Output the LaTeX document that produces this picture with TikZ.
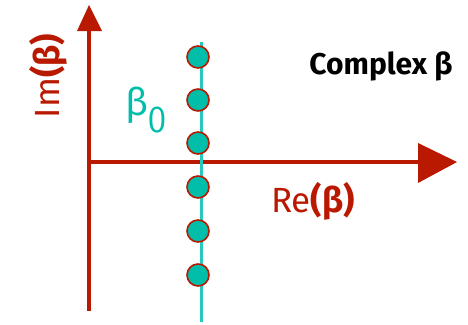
\documentclass[tikz,border=0pt]{standalone}
\usepackage{fontspec}
\setmainfont{Fira Sans}
\begin{document}
\begin{tikzpicture}[x=1pt,y=-1pt,
  axis/.style={draw=axred,line width=4pt},
  ahead/.style={fill=axred,draw=none},
  pole/.style={circle,fill=poleteal,draw=axred,line width=1.6pt,minimum size=22pt,inner sep=0pt},
  lbl/.style={text=axred,font=\fontsize{35}{38}\selectfont,inner sep=0pt}]
\definecolor{axred}{RGB}{185,25,0}
\definecolor{poleteal}{RGB}{0,190,170}
\definecolor{lineteal}{RGB}{40,200,190}
\useasboundingbox (0,0) rectangle (468,324);
% axes
\coordinate (ybot) at (89,311);
\coordinate (ybase) at (89,30);
\coordinate (xleft) at (89,162);
\coordinate (xbase) at (420,162);
\draw[axis] (ybot) -- (ybase);
\draw[axis] (xleft) -- (xbase);
\fill[ahead] (77,31) -- (89,5) -- (102,31) -- cycle;
\fill[ahead] (418,143) -- (457,162) -- (418,183) -- cycle;
% teal line
\coordinate (ttop) at (201,42);
\coordinate (tbot) at (201,322);
\draw[lineteal,line width=3pt] (ttop) -- (tbot);
% poles
\foreach \i/\y in {1/57,2/100,3/143,4/187,5/231,6/275}
  \node[pole] (p\i) at (198,\y) {};
% labels
\node[lbl,rotate=90] (im) at (48,76) {Im\textbf{(β)}};
\node[lbl] (re) at (313,201) {Re\textbf{(β)}};
\node[text=poleteal,font=\fontsize{38}{40}\selectfont,inner sep=0pt] (b0) at (146,110) {β$_{\textsf{0}}$};
\node[font=\bfseries\fontsize{30}{32}\selectfont,inner sep=0pt] (cx) at (381,66) {Complex β};
\end{tikzpicture}
\end{document}
